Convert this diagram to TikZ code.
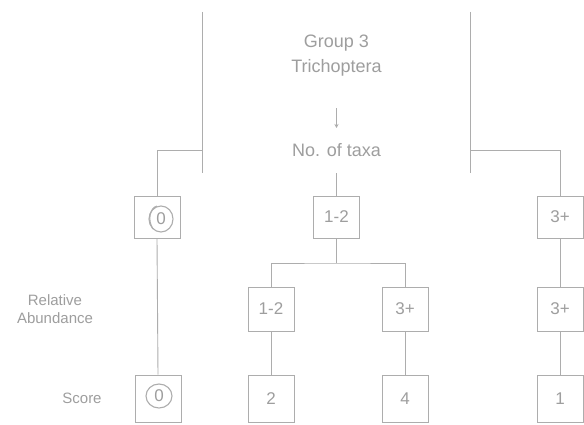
\documentclass[tikz,border=0pt]{standalone}
\usepackage{fontspec}
\setmainfont{Liberation Sans}
\usetikzlibrary{arrows.meta}
\definecolor{ink}{gray}{0.62}
\definecolor{lineink}{gray}{0.68}
\tikzset{
  conn/.style={draw=lineink, line width=0.9pt},
  sidebox/.style={draw=lineink, line width=0.9pt, rectangle, minimum width=46pt, minimum height=42pt, inner sep=0pt, text=ink, font=\fontsize{17}{20}\selectfont},
  scorebox/.style={sidebox, minimum height=47pt},
  bigtext/.style={text=ink, font=\fontsize{18}{22}\selectfont, inner sep=0pt},
  sidelabel/.style={text=ink, font=\fontsize{15}{18}\selectfont, align=center, inner sep=0pt},
  ring/.style={draw=lineink, line width=1.1pt}
}
\begin{document}
\begin{tikzpicture}[x=1pt,y=-1pt]
\useasboundingbox[fill=white] (0,0) rectangle (584,424);
% big group box (only its sides survive)
\node[rectangle, minimum width=267pt, minimum height=161pt, inner sep=0pt] (big) at (336.5,92.5) {};
\draw[conn] (big.north west) -- (big.south west);
\draw[conn] (big.north east) -- (big.south east);
\node[bigtext] (g3) at (336.5,43) {Group 3};
\node[bigtext] (trich) at (336.5,68) {Trichoptera};
\node[bigtext] (taxa) at (336.5,150) {No. of taxa};
\coordinate (arS) at (336.5,108);
\coordinate (arE) at (336.5,128);
\draw[conn, -{Stealth[length=4pt,width=4pt]}] (arS) -- (arE);
% upper row
\node[sidebox] (n0) at (157,217) {};
\node[sidebox] (n12) at (336.5,217) {1-2};
\node[sidebox] (n3) at (560,217) {3+};
% middle row
\node[sidebox, minimum height=44pt] (a12) at (271,309) {1-2};
\node[sidebox, minimum height=44pt] (a3) at (405,309) {3+};
\node[sidebox, minimum height=44pt] (a3r) at (560,309) {3+};
% score row
\node[scorebox] (s0) at (158,398.5) {};
\node[scorebox] (s2) at (271,398.5) {2};
\node[scorebox] (s4) at (405,398.5) {4};
\node[scorebox] (s1) at (560,398.5) {1};
% circled zeros
\node[text=ink, font=\fontsize{17}{20}\selectfont] (z0) at (161,219) {0};
\draw[ring] (161,219) ellipse (12pt and 13pt);
\draw[ring] (153,229) .. controls (147,220) and (150,208) .. (157,206);
\node[text=ink, font=\fontsize{17}{20}\selectfont] (z1) at (159,396) {0};
\draw[ring] (159,396) ellipse (13pt and 12pt);
% side labels
\node[sidelabel] (rel) at (55,309) {Relative\\Abundance};
\node[sidelabel] (score) at (82,398) {Score};
% connectors
\draw[conn] (big.west |- taxa.center) -| (n0.north);
\draw[conn] (big.east |- taxa.center) -| (n3.north);
\draw[conn] (big.south) -- (n12.north);
\coordinate (split) at (336.5,263);
\draw[conn] (n12.south) -- (split);
\draw[conn] (a12.north) |- (split) -| (a3.north);
\draw[conn] (n0.south) -- (s0.north);
\draw[conn] (n3.south) -- (a3r.north);
\draw[conn] (a3r.south) -- (s1.north);
\draw[conn] (a12.south) -- (s2.north);
\draw[conn] (a3.south) -- (s4.north);
\end{tikzpicture}
\end{document}
